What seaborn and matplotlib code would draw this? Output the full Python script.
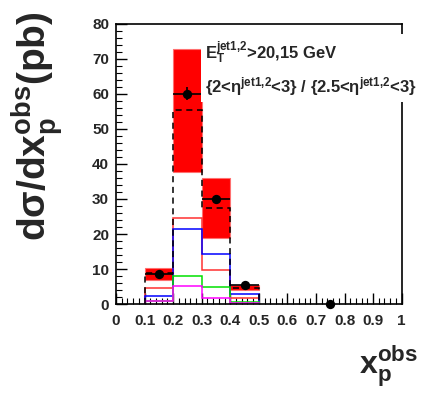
import numpy as np
import matplotlib
matplotlib.use("Agg")
import matplotlib.pyplot as plt
import seaborn as sns

# bins of x_p^obs
edges = [0.1, 0.2, 0.3, 0.4, 0.5]
centers = [0.15, 0.25, 0.35, 0.45]

# data points (last one at 0.75 sits on zero)
pt_x = [0.15, 0.25, 0.35, 0.45, 0.75]
pt_y = [8.7, 60.1, 29.9, 5.4, 0.0]
pt_yerr = [0.6, 1.8, 1.1, 0.4, 0.0]
pt_xerr = [0.05, 0.05, 0.05, 0.05, 0.0]

# red uncertainty band
band_lo = [6.9, 37.6, 18.8, 4.1]
band_hi = [10.4, 72.8, 35.9, 5.5]

# model histograms
dashed_vals = [8.8, 55.4, 27.3, 4.7]
red_vals = [4.5, 24.5, 9.6, 1.7]
blue_vals = [2.4, 21.5, 14.2, 2.9]
green_vals = [0.9, 7.9, 4.8, 0.7]
magenta_vals = [1.0, 5.1, 1.8, 0.3]

xticks = [0, 0.1, 0.2, 0.3, 0.4, 0.5, 0.6, 0.7, 0.8, 0.9, 1]
xticklabels = ["0", "0.1", "0.2", "0.3", "0.4", "0.5", "0.6", "0.7", "0.8", "0.9", "1"]
yticks = [0, 10, 20, 30, 40, 50, 60, 70, 80]

sns.set_style("ticks")
plt.rcParams["font.family"] = ["Liberation Sans", "DejaVu Sans"]
plt.rcParams["font.weight"] = "bold"
plt.rcParams["mathtext.fontset"] = "custom"
plt.rcParams["mathtext.rm"] = "Liberation Sans:bold"
plt.rcParams["mathtext.it"] = "Liberation Sans:bold"
plt.rcParams["mathtext.bf"] = "Liberation Sans:bold"
plt.rcParams["mathtext.sf"] = "Liberation Sans:bold"
plt.rcParams["mathtext.default"] = "regular"

fig = plt.figure(figsize=(4.25, 3.98), dpi=100)
ax = fig.add_axes([0.273, 0.236, 0.672, 0.704])

# band
hi = np.array(band_hi)
lo = np.array(band_lo)
ax.bar(centers, hi - lo, bottom=lo, width=0.1, color="#ff0000",
       edgecolor="#ff7070", linewidth=0.8, zorder=1)

# histograms
ax.stairs(red_vals, edges, baseline=0, color="#ff3030", linewidth=1.1, zorder=2)
ax.stairs(blue_vals, edges, baseline=0, color="#0000ff", linewidth=1.1, zorder=2)
ax.stairs(green_vals, edges, baseline=0, color="#00e000", linewidth=1.1, zorder=2)
ax.stairs(magenta_vals, edges, baseline=0, color="#ff00ff", linewidth=1.1, zorder=2)
ax.stairs(dashed_vals, edges, baseline=0, color="black", linewidth=1.1,
          linestyle=(0, (4, 3)), zorder=3)

# data points
ax.errorbar(pt_x, pt_y, xerr=pt_xerr, yerr=pt_yerr, fmt="none", ecolor="black",
            elinewidth=1.2, capsize=0, zorder=4)
sns.scatterplot(x=pt_x, y=pt_y, color="black", s=45, edgecolor="black",
                linewidth=0, ax=ax, zorder=5, clip_on=False)

ax.set_xlim(0, 1)
ax.set_ylim(0, 80)
ax.set_xticks(xticks)
ax.set_xticklabels(xticklabels)
ax.set_yticks(yticks)
ax.set_xticks(np.arange(0, 1.001, 0.02), minor=True)
ax.set_yticks(np.arange(0, 80.1, 2), minor=True)
ax.tick_params(axis="both", which="major", direction="in", length=8, width=1,
               labelsize=11, color="black")
ax.tick_params(axis="both", which="minor", direction="in", length=4, width=0.8,
               color="black")
ax.tick_params(axis="x", pad=7)
ax.tick_params(axis="y", pad=5)
for lab in ax.get_xticklabels() + ax.get_yticklabels():
    lab.set_fontweight("bold")
for sp in ax.spines.values():
    sp.set_visible(True)
    sp.set_color("black")
    sp.set_linewidth(1.2)

# legend text with white background covering the frame
ax.text(0.312, 0.84,
        "$E_T^{jet1{,}2}$>20,15 GeV\n"
        "{2<$\\eta^{jet1{,}2}$<3} / {2.5<$\\eta^{jet1{,}2}$<3}",
        transform=ax.transAxes, fontsize=12, fontweight="bold", ha="left", va="center",
        linespacing=1.55, zorder=10, clip_on=False,
        bbox=dict(facecolor="white", edgecolor="none", pad=3))

fig.text(38 / 425, 1 - 126 / 398, "$d\\sigma/dx_p^{obs}(pb)$", rotation=90,
         fontsize=28, fontweight="bold", ha="center", va="center")
fig.text(388 / 425, 1 - 366 / 398, "$x_p^{obs}$", fontsize=23,
         fontweight="bold", ha="center", va="center")

fig.savefig("out.png", dpi=100)
